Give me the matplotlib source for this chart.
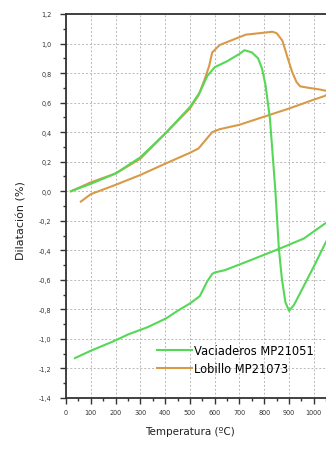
import numpy as np
import matplotlib
matplotlib.use("Agg")
import matplotlib.pyplot as plt
from matplotlib.ticker import MultipleLocator, FuncFormatter

# Vaciaderos MP21051 (heating then cooling)
vac_temp = [20, 100, 200, 300, 400, 500, 540, 570, 600, 650, 700, 720, 750, 775, 791,
            805, 823, 845, 859, 871, 885, 900, 920, 960, 1000, 1044, 1100,
            1044, 960, 860, 740, 640, 600, 590, 570, 540, 500, 450, 405, 330, 250, 200, 100, 36]
vac_dil = [0.0, 0.05, 0.12, 0.23, 0.39, 0.57, 0.67, 0.78, 0.84, 0.88, 0.93, 0.955, 0.94, 0.90, 0.83,
           0.72, 0.49, 0.0, -0.39, -0.59, -0.75, -0.81, -0.77, -0.64, -0.51, -0.36, -0.18,
           -0.22, -0.32, -0.39, -0.47, -0.535, -0.55, -0.56, -0.61, -0.71, -0.76, -0.81, -0.86, -0.92, -0.97, -1.01, -1.08, -1.13]

# Lobillo MP21073 (heating then cooling)
lob_temp = [20, 100, 200, 300, 400, 500, 535, 560, 578, 590, 620, 680, 725, 780, 833, 850,
            873, 895, 912, 930, 945, 980, 1020, 1050, 1062,
            1044, 1000, 900, 827, 700, 620, 590, 560, 535, 500, 405, 300, 195, 100, 60]
lob_dil = [0.0, 0.06, 0.12, 0.22, 0.39, 0.56, 0.65, 0.76, 0.85, 0.94, 0.99, 1.03, 1.06, 1.07, 1.08, 1.07,
           1.02, 0.90, 0.81, 0.74, 0.71, 0.70, 0.69, 0.68, 0.665,
           0.645, 0.62, 0.56, 0.52, 0.45, 0.42, 0.40, 0.34, 0.29, 0.26, 0.19, 0.11, 0.04, -0.02, -0.07]

x_ticks = list(range(0, 1101, 100))
x_labels = [str(t) if t <= 1000 else '' for t in x_ticks]
y_ticks = [round(-1.4 + 0.2 * i, 1) for i in range(14)]

green = '#55d855'
orange = '#d99a48'

fig = plt.figure(figsize=(3.26, 4.52), dpi=100)
ax = fig.add_axes([66 / 326, 53 / 452, 272.6 / 326, 384 / 452])

ax.plot(lob_temp, lob_dil, color=orange, lw=1.5, label='Lobillo MP21073', zorder=3)
ax.plot(vac_temp, vac_dil, color=green, lw=1.5, label='Vaciaderos MP21051', zorder=3)

ax.set_xlim(0, 1100)
ax.set_ylim(-1.4, 1.2)
ax.set_xticks(x_ticks, x_labels)
ax.set_yticks(y_ticks)
ax.xaxis.set_minor_locator(MultipleLocator(50))
ax.yaxis.set_minor_locator(MultipleLocator(0.1))
ax.yaxis.set_major_formatter(FuncFormatter(lambda v, p: f'{v:.1f}'.replace('.', ',')))

ax.grid(True, which='major', color='#b8b8b8', linestyle=(0, (2, 2)), linewidth=0.7)
ax.tick_params(which='major', direction='out', length=4.5, width=1, labelsize=4.7,
               color='#333333', labelcolor='#333333')
ax.tick_params(axis='y', which='major', pad=6)
ax.tick_params(axis='x', which='major', pad=3.5)
ax.tick_params(which='minor', direction='out', length=2.5, width=1, color='#333333')
for s in ax.spines.values():
    s.set_color('#333333')
    s.set_linewidth(1.3)

fig.text(190 / 326, 1 - 432 / 452, 'Temperatura (ºC)', ha='center', va='center',
         fontsize=7.5, color='#222222')
fig.text(22 / 326, 1 - 221 / 452, 'Dilatación (%)', ha='center', va='center',
         rotation=90, fontsize=8, color='#222222')

handles, labels = ax.get_legend_handles_labels()
fig.legend(handles[::-1], labels[::-1], loc='upper left',
           bbox_to_anchor=(157 / 326, 1 - 345 / 452), frameon=False,
           fontsize=8.3, handlelength=3.0, handletextpad=0.25, labelspacing=0.45,
           borderpad=0, borderaxespad=0)

fig.savefig('out.png', dpi=100)
